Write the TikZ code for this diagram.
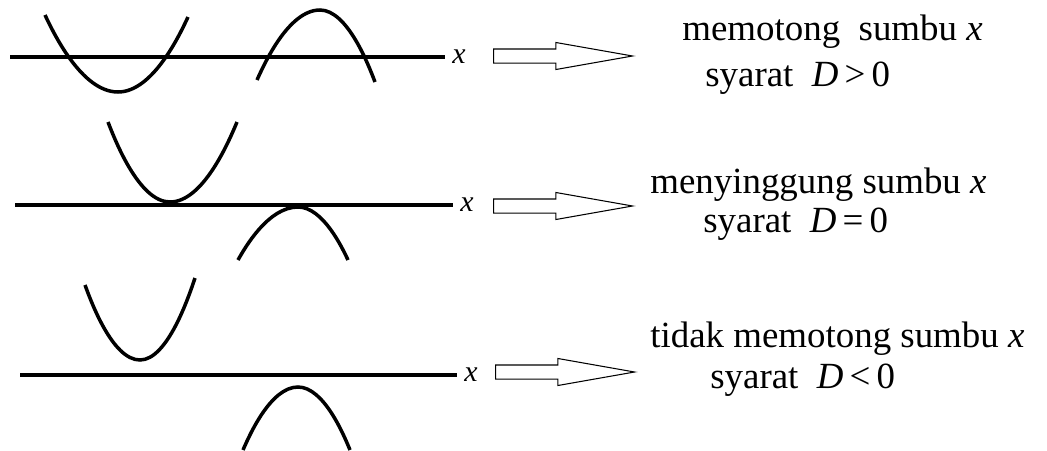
\documentclass[tikz,border=0pt]{standalone}
\usepackage{fontspec}
\setmainfont{Liberation Serif}
\usetikzlibrary{shapes.arrows,positioning}
\begin{document}
\begin{tikzpicture}[
    x=0.02cm, y=-0.02cm,
    axis/.style = {line width=0.08cm},
    curve/.style = {line width=0.07cm},
    axlabel/.style = {font=\fontsize{17}{20}\selectfont\itshape, inner sep=0pt, right=4pt},
    fatarrow/.style = {shape=single arrow, draw, line width=0.6pt, minimum height=2.78cm, single arrow head extend=0.13cm, single arrow tip angle=20, inner sep=0.13cm, anchor=west},
    caption/.style = {font=\fontsize{21}{25}\selectfont, inner sep=0pt, anchor=base west}
  ]
\useasboundingbox (0,0) rectangle (1047,450);
\draw[axis] (10,57) -- (445,57) coordinate (axA);
\node[axlabel] (xA) at (axA) {x};
\draw[curve] (45,15) parabola bend (118,92) (188,17);
\draw[curve] (257,80) parabola bend (320,10) (375,82);
\node[fatarrow] (arA) at (493,56) {};
\node[caption] (tA) at (682,40) {memotong\ \ sumbu \textit{x}};
\node[caption] (sA) at (705,86) {syarat\ \ \textit{D}\,>\,0};

\draw[axis] (15,205) -- (453,205) coordinate (axB);
\node[axlabel] (xB) at (axB) {x};
\draw[curve] (108,122) parabola bend (170,202) (237,122);
\draw[curve] (238,260) parabola bend (298,207) (348,260);
\node[fatarrow] (arB) at (493,206) {};
\node[caption] (tB) at (650,193) {menyinggung sumbu \textit{x}};
\node[caption] (sB) at (703,232) {syarat\ \ \textit{D}\,=\,0};

\draw[axis] (20,375) -- (457,375) coordinate (axC);
\node[axlabel] (xC) at (axC) {x};
\draw[curve] (85,285) parabola bend (140,360) (195,278);
\draw[curve] (243,450) parabola bend (298,387) (350,450);
\node[fatarrow] (arC) at (495,372) {};
\node[caption] (tC) at (650,347) {tidak memotong sumbu \textit{x}};
\node[caption] (sC) at (710,388) {syarat\ \ \textit{D}\,<\,0};
\end{tikzpicture}
\end{document}
